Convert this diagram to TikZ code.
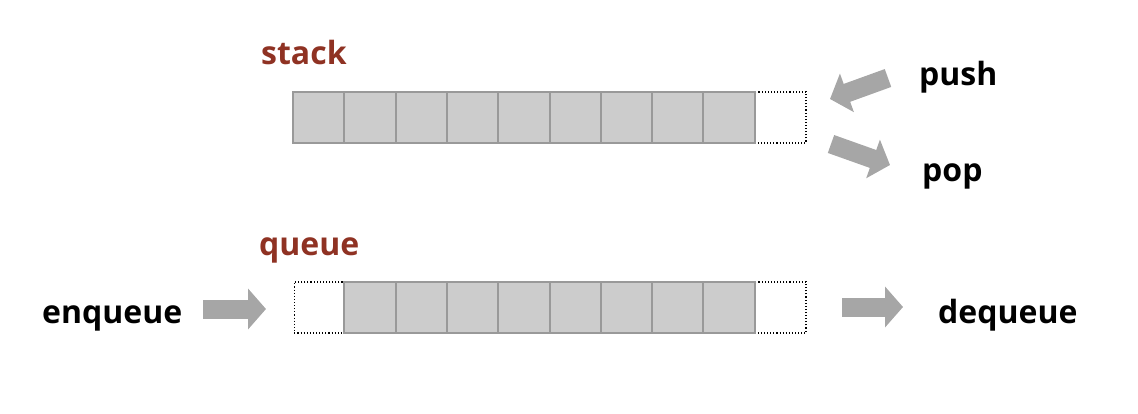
\documentclass[tikz,border=0pt]{standalone}
\usepackage{fontspec}
\newfontfamily\labfont{Open Sans}
\usetikzlibrary{arrows.meta}
\definecolor{titlered}{HTML}{8F3223}
\definecolor{cellfill}{HTML}{CCCCCC}
\definecolor{cellline}{HTML}{999999}
\definecolor{arrowgray}{HTML}{A6A6A6}
\tikzset{
  cellbox/.style={fill=cellfill, minimum width=51.3pt, minimum height=51pt, inner sep=0pt, outer sep=0pt},
  cellborder/.style={draw=cellline, line width=2pt},
  emptybox/.style={draw=black, dotted, line width=1.1pt, minimum width=51.3pt, minimum height=51pt, inner sep=0pt, outer sep=0pt},
  title/.style={anchor=base west, inner sep=0pt, text=titlered, font=\labfont\bfseries\fontsize{32}{38}\selectfont},
  oplabel/.style={anchor=base west, inner sep=0pt, text=black, font=\labfont\bfseries\fontsize{32}{38}\selectfont},
  bigarrow/.style={draw=arrowgray, line width=19pt, line cap=butt, -{Triangle[length=18pt, width=40pt]}},
}
\begin{document}
\begin{tikzpicture}[x=1pt, y=-1pt]
\useasboundingbox (0,0) rectangle (1138,414);
% stack
\node[title] (stacklbl) at (261,65) {stack};
\node[emptybox] (s10) at ({293+51.3*9.5},117.5) {};
\foreach \i in {1,...,9} {
  \node[cellbox] (s\i) at ({293+51.3*(\i-0.5)},117.5) {};
}
\foreach \i in {1,...,9} {
  \draw[cellborder] (s\i.north west) rectangle (s\i.south east);
}
% push / pop
\node[oplabel] (push) at (919,86) {push};
\node[oplabel] (pop) at (922,182) {pop};
\coordinate (pushS) at (888,78);
\coordinate (pushE) at (830,99);
\coordinate (popS) at (831,144);
\coordinate (popE) at (890,165);
\draw[bigarrow] (pushS) -- (pushE);
\draw[bigarrow] (popS) -- (popE);
% queue
\node[title] (queuelbl) at (259,255) {queue};
\node[emptybox] (q0) at ({295+50*0.5},307.5) {};
\node[emptybox] (q9) at ({293+51.3*9.5},307.5) {};
\foreach \i in {1,...,8} {
  \node[cellbox] (q\i) at ({293+51.3*(\i+0.5)},307.5) {};
}
\foreach \i in {1,...,8} {
  \draw[cellborder] (q\i.north west) rectangle (q\i.south east);
}
% enqueue / dequeue
\node[oplabel] (enq) at (42,323) {enqueue};
\node[oplabel] (deq) at (938,323) {dequeue};
\coordinate (enqS) at (203,309);
\coordinate (enqE) at (266,309);
\coordinate (deqS) at (842,307);
\coordinate (deqE) at (903,307);
\draw[bigarrow] (enqS) -- (enqE);
\draw[bigarrow] (deqS) -- (deqE);
\end{tikzpicture}
\end{document}
